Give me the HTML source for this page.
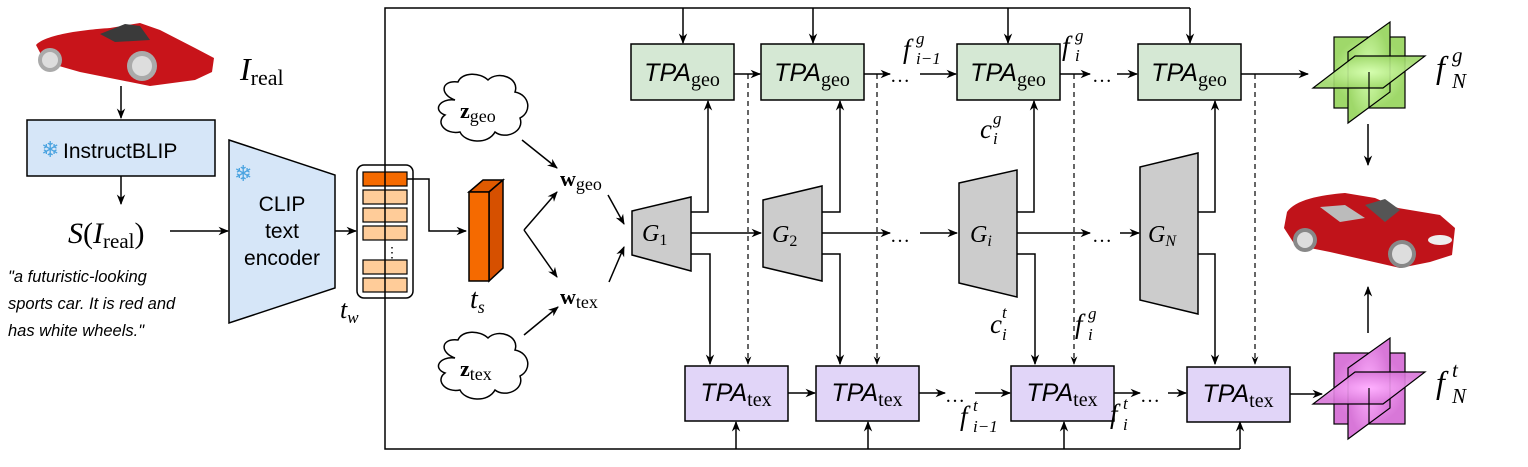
<!DOCTYPE html>
<html><head><meta charset="utf-8"><style>
html,body{margin:0;padding:0;background:#fff;}
svg text{font-family:"Liberation Serif",serif;}
.s{font-family:"Liberation Sans",sans-serif;}
</style></head><body>
<svg width="1528" height="462" viewBox="0 0 1528 462" xmlns="http://www.w3.org/2000/svg">
<defs>
<marker id="a" viewBox="0 0 10 10" refX="9" refY="5" markerWidth="7" markerHeight="7" orient="auto-start-reverse"><path d="M0,1 L10,5 L0,9 L3,5 z" fill="#000"/></marker>
<radialGradient id="gg"><stop offset="0" stop-color="#d6ffb0"/><stop offset="1" stop-color="#9fd86a"/></radialGradient>
<radialGradient id="pg"><stop offset="0" stop-color="#ffb0ff"/><stop offset="1" stop-color="#d877d8"/></radialGradient>
</defs>
<g stroke="#000" stroke-width="1.5" fill="none">
<g stroke="none">
<path d="M36,45 C45,35 80,30 110,28 L140,23 L160,30 L195,48 L214,58 L212,72 L195,80 L150,86 L80,72 L45,62 Z" fill="#c8141a"/>
<path d="M100,34 L125,24 L140,26 L150,40 L115,42 Z" fill="#3a3a3a"/>
<circle cx="50" cy="60" r="12" fill="#aaa"/><circle cx="142" cy="66" r="15" fill="#aaa"/>
<circle cx="50" cy="60" r="8" fill="#ddd"/><circle cx="142" cy="66" r="10" fill="#ddd"/>
</g>
<line x1="121" y1="86" x2="121" y2="118" marker-end="url(#a)"/>
<rect x="27" y="120" width="188" height="56" fill="#d6e6f8"/>
<line x1="121" y1="176" x2="121" y2="204" marker-end="url(#a)"/>
<line x1="170" y1="231" x2="228" y2="231" marker-end="url(#a)"/>
<polygon points="229,140 335,175 335,288 229,323" fill="#d6e6f8"/>
<line x1="335" y1="231" x2="356" y2="231" marker-end="url(#a)"/>
<rect x="357" y="165" width="56" height="133" rx="7" fill="#fff"/>
<g stroke-width="1.2">
<rect x="363" y="172" width="44" height="14" fill="#f56a00"/>
<rect x="363" y="190" width="44" height="14" fill="#ffcc99"/>
<rect x="363" y="208" width="44" height="14" fill="#ffcc99"/>
<rect x="363" y="226" width="44" height="14" fill="#ffcc99"/>
<rect x="363" y="260" width="44" height="14" fill="#ffcc99"/>
<rect x="363" y="278" width="44" height="14" fill="#ffcc99"/>
</g>
<polyline points="407,179 429,179 429,231 466,231" marker-end="url(#a)"/>
<polygon points="469,192 483,180 503,180 489,192" fill="#e05a00"/>
<polygon points="489,192 503,180 503,268 489,281" fill="#d65000"/>
<rect x="469" y="192" width="20" height="89" fill="#f56a00"/>
<polyline points="1190,8 385,8 385,449 1240,449"/>
<path d="M455,100 C440,95 440,80 458,82 C462,72 480,72 488,80 C498,70 520,78 515,92 C530,95 532,112 520,118 C525,132 505,140 495,132 C488,145 465,143 460,132 C445,135 435,122 445,115 C432,110 440,98 455,100 Z" fill="#fff"/>
<path d="M455,358 C440,353 440,338 458,340 C462,330 480,330 488,338 C498,328 520,336 515,350 C530,353 532,370 520,376 C525,390 505,398 495,390 C488,403 465,401 460,390 C445,393 435,380 445,373 C432,368 440,356 455,358 Z" fill="#fff"/>
<line x1="522" y1="140" x2="557" y2="168" marker-end="url(#a)"/>
<line x1="524" y1="230" x2="557" y2="192" marker-end="url(#a)"/>
<line x1="524" y1="230" x2="557" y2="277" marker-end="url(#a)"/>
<line x1="524" y1="335" x2="558" y2="307" marker-end="url(#a)"/>
<line x1="608" y1="195" x2="624" y2="224" marker-end="url(#a)"/>
<line x1="609" y1="282" x2="624" y2="247" marker-end="url(#a)"/>
<line x1="683" y1="8" x2="683" y2="43" marker-end="url(#a)"/>
<line x1="813" y1="8" x2="813" y2="43" marker-end="url(#a)"/>
<line x1="1008" y1="8" x2="1008" y2="43" marker-end="url(#a)"/>
<line x1="1190" y1="8" x2="1190" y2="43" marker-end="url(#a)"/>
<line x1="736" y1="449" x2="736" y2="422" marker-end="url(#a)"/>
<line x1="868" y1="449" x2="868" y2="422" marker-end="url(#a)"/>
<line x1="1064" y1="449" x2="1064" y2="422" marker-end="url(#a)"/>
<line x1="1240" y1="449" x2="1240" y2="422" marker-end="url(#a)"/>
<g stroke-dasharray="5,4" stroke-width="1.2">
<line x1="748" y1="74" x2="748" y2="364" marker-end="url(#a)"/>
<line x1="877" y1="74" x2="877" y2="364" marker-end="url(#a)"/>
<line x1="1074" y1="74" x2="1074" y2="364" marker-end="url(#a)"/>
<line x1="1255" y1="74" x2="1255" y2="364" marker-end="url(#a)"/>
</g>
<polyline points="691,212 708,212 708,101" marker-end="url(#a)"/>
<polyline points="691,254 710,254 710,364" marker-end="url(#a)"/>
<polyline points="822,212 840,212 840,101" marker-end="url(#a)"/>
<polyline points="822,254 840,254 840,364" marker-end="url(#a)"/>
<polyline points="1017,212 1034,212 1034,101" marker-end="url(#a)"/>
<polyline points="1017,254 1035,254 1035,364" marker-end="url(#a)"/>
<polyline points="1198,212 1215,212 1215,101" marker-end="url(#a)"/>
<polyline points="1198,254 1215,254 1215,364" marker-end="url(#a)"/>
<line x1="691" y1="233" x2="761" y2="233" marker-end="url(#a)"/>
<line x1="822" y1="233" x2="890" y2="233" marker-end="url(#a)"/>
<line x1="920" y1="233" x2="957" y2="233" marker-end="url(#a)"/>
<line x1="1017" y1="233" x2="1090" y2="233" marker-end="url(#a)"/>
<line x1="1120" y1="233" x2="1139" y2="233" marker-end="url(#a)"/>
<g fill="#cccccc">
<polygon points="632,211 691,197 691,271 632,255"/>
<polygon points="763,200 822,186 822,281 763,267"/>
<polygon points="959,183 1017,170 1017,297 959,283"/>
<polygon points="1140,167 1198,153 1198,314 1140,300"/>
</g>
<g fill="#d5e8d4">
<rect x="631" y="44" width="103" height="56"/>
<rect x="761" y="44" width="103" height="56"/>
<rect x="957" y="44" width="103" height="56"/>
<rect x="1138" y="44" width="103" height="56"/>
</g>
<line x1="734" y1="74" x2="760" y2="74" marker-end="url(#a)"/>
<line x1="864" y1="74" x2="890" y2="74" marker-end="url(#a)"/>
<line x1="920" y1="74" x2="956" y2="74" marker-end="url(#a)"/>
<line x1="1060" y1="74" x2="1090" y2="74" marker-end="url(#a)"/>
<line x1="1117" y1="74" x2="1137" y2="74" marker-end="url(#a)"/>
<line x1="1241" y1="74" x2="1308" y2="74" marker-end="url(#a)"/>
<g fill="#e1d5f8">
<rect x="685" y="366" width="103" height="55"/>
<rect x="816" y="366" width="103" height="55"/>
<rect x="1011" y="366" width="103" height="55"/>
<rect x="1187" y="367" width="103" height="55"/>
</g>
<line x1="788" y1="393" x2="815" y2="393" marker-end="url(#a)"/>
<line x1="919" y1="393" x2="945" y2="393" marker-end="url(#a)"/>
<line x1="975" y1="393" x2="1010" y2="393" marker-end="url(#a)"/>
<line x1="1114" y1="393" x2="1140" y2="393" marker-end="url(#a)"/>
<line x1="1168" y1="393" x2="1186" y2="393" marker-end="url(#a)"/>
<line x1="1290" y1="394" x2="1322" y2="394" marker-end="url(#a)"/>
<g stroke-width="1.2">
<rect x="1334" y="37" width="71" height="71" fill="url(#gg)"/>
<polygon points="1348,52 1390,22 1390,92 1348,123" fill="url(#gg)"/>
<polygon points="1313,88 1383,88 1425,56 1355,56" fill="url(#gg)" fill-opacity="0.9"/>
<line x1="1369" y1="72" x2="1369" y2="108"/>
<rect x="1334" y="353" width="71" height="71" fill="url(#pg)"/>
<polygon points="1348,368 1390,338 1390,408 1348,439" fill="url(#pg)"/>
<polygon points="1313,404 1383,404 1425,372 1355,372" fill="url(#pg)" fill-opacity="0.9"/>
<line x1="1369" y1="388" x2="1369" y2="424"/>
</g>
<line x1="1368" y1="124" x2="1368" y2="165" marker-end="url(#a)"/>
<line x1="1368" y1="333" x2="1368" y2="287" marker-end="url(#a)"/>
<g stroke="none">
<path d="M1287,212 C1295,200 1320,195 1345,193 L1375,198 L1398,208 L1440,215 L1455,228 L1452,255 L1430,262 L1400,268 L1330,252 L1295,245 L1284,228 Z" fill="#c0131a"/>
<path d="M1320,207 L1345,205 L1365,218 L1340,222 Z" fill="#bbb"/>
<path d="M1365,205 L1385,199 L1400,210 L1385,222 Z" fill="#555"/>
<circle cx="1305" cy="240" r="12" fill="#888"/><circle cx="1305" cy="240" r="8" fill="#ddd"/>
<circle cx="1402" cy="254" r="14" fill="#888"/><circle cx="1402" cy="254" r="10" fill="#ddd"/>
<ellipse cx="1440" cy="240" rx="12" ry="5" fill="#eee"/>
</g>
</g>
<g fill="#000">
<text x="240" y="80" font-size="32" font-style="italic">I<tspan font-style="normal" font-size="22" dy="5">real</tspan></text>
<text x="41" y="157" font-size="22" fill="#4aa3e0">❄</text>
<text class="s" x="63" y="158" font-size="21">InstructBLIP</text>
<text x="68" y="243" font-size="30" font-style="italic">S<tspan font-style="normal">(</tspan>I<tspan font-style="normal" font-size="21" dy="5">real</tspan><tspan font-style="normal" dy="-5">)</tspan></text>
<text x="234" y="181" font-size="22" fill="#4aa3e0">❄</text>
<g font-size="21" text-anchor="middle"><text x="282" y="211" class="s">CLIP</text><text x="282" y="238" class="s">text</text><text x="282" y="265" class="s">encoder</text></g>
<g font-size="16.5" font-style="italic"><text class="s" x="8" y="282">"a futuristic-looking</text><text class="s" x="8" y="309">sports car. It is red and</text><text class="s" x="8" y="336">has white wheels."</text></g>
<text x="385" y="257" font-size="14">⋮</text>
<text x="340" y="318" font-size="26" font-style="italic">t<tspan font-size="17" dy="5">w</tspan></text>
<text x="470" y="308" font-size="28" font-style="italic">t<tspan font-size="18" dy="5">s</tspan></text>
<text x="460" y="118" font-size="22" font-weight="bold">z<tspan font-weight="normal" font-size="18" dy="4">geo</tspan></text>
<text x="460" y="376" font-size="22" font-weight="bold">z<tspan font-weight="normal" font-size="18" dy="4">tex</tspan></text>
<text x="560" y="186" font-size="22" font-weight="bold">w<tspan font-weight="normal" font-size="18" dy="4">geo</tspan></text>
<text x="560" y="304" font-size="22" font-weight="bold">w<tspan font-weight="normal" font-size="18" dy="4">tex</tspan></text>
<g font-size="24" font-style="italic">
<text x="642" y="241">G<tspan font-size="16" font-style="normal" dy="4">1</tspan></text>
<text x="772" y="242">G<tspan font-size="16" font-style="normal" dy="4">2</tspan></text>
<text x="970" y="242">G<tspan font-size="16" dy="4">i</tspan></text>
<text x="1148" y="242">G<tspan font-size="16" dy="4">N</tspan></text>
</g>
<g font-size="25" font-style="italic" text-anchor="middle">
<text class="s" x="682" y="81">TPA<tspan font-family="Liberation Serif" font-style="normal" font-size="20" dy="5">geo</tspan></text>
<text class="s" x="812" y="81">TPA<tspan font-family="Liberation Serif" font-style="normal" font-size="20" dy="5">geo</tspan></text>
<text class="s" x="1008" y="81">TPA<tspan font-family="Liberation Serif" font-style="normal" font-size="20" dy="5">geo</tspan></text>
<text class="s" x="1189" y="81">TPA<tspan font-family="Liberation Serif" font-style="normal" font-size="20" dy="5">geo</tspan></text>
<text class="s" x="736" y="401">TPA<tspan font-family="Liberation Serif" font-style="normal" font-size="20" dy="5">tex</tspan></text>
<text class="s" x="867" y="401">TPA<tspan font-family="Liberation Serif" font-style="normal" font-size="20" dy="5">tex</tspan></text>
<text class="s" x="1062" y="401">TPA<tspan font-family="Liberation Serif" font-style="normal" font-size="20" dy="5">tex</tspan></text>
<text class="s" x="1238" y="402">TPA<tspan font-family="Liberation Serif" font-style="normal" font-size="20" dy="5">tex</tspan></text>
</g>
<g font-size="20">
<text x="890" y="82">…</text><text x="1092" y="82">…</text>
<text x="890" y="242">…</text><text x="1092" y="242">…</text>
<text x="945" y="402">…</text><text x="1140" y="402">…</text>
</g>
<g font-style="italic">
<text x="903" y="58" font-size="27">f</text><text x="916" y="44" font-size="17">g</text><text x="916" y="64" font-size="17">i−1</text>
<text x="1062" y="55" font-size="27">f</text><text x="1075" y="41" font-size="17">g</text><text x="1075" y="61" font-size="17">i</text>
<text x="980" y="138" font-size="27">c</text><text x="993" y="124" font-size="17">g</text><text x="993" y="144" font-size="17">i</text>
<text x="990" y="333" font-size="27">c</text><text x="1002" y="318" font-size="17">t</text><text x="1002" y="340" font-size="17">i</text>
<text x="1075" y="333" font-size="27">f</text><text x="1088" y="319" font-size="17">g</text><text x="1088" y="340" font-size="17">i</text>
<text x="960" y="425" font-size="27">f</text><text x="973" y="411" font-size="17">t</text><text x="973" y="432" font-size="17">i−1</text>
<text x="1110" y="423" font-size="27">f</text><text x="1123" y="409" font-size="17">t</text><text x="1123" y="430" font-size="17">i</text>
<text x="1436" y="78" font-size="32">f</text><text x="1452" y="62" font-size="21">g</text><text x="1452" y="88" font-size="21">N</text>
<text x="1436" y="393" font-size="32">f</text><text x="1452" y="377" font-size="21">t</text><text x="1452" y="403" font-size="21">N</text>
</g>
</g>
</svg>
</body></html>
